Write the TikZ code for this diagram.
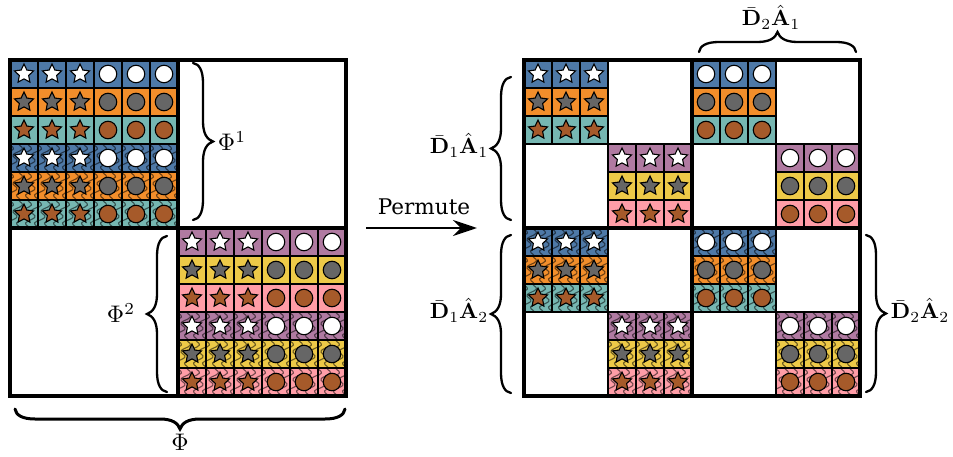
\documentclass[tikz,border=0pt]{standalone}
\usepackage{amsmath}
\usepackage[no-math]{fontspec}
\setmainfont{DejaVu Serif}
\usepackage{tikz}
\usetikzlibrary{shapes.geometric,decorations,arrows.meta}

\definecolor{cblue}{HTML}{4E79A7}
\definecolor{corange}{HTML}{F28E2B}
\definecolor{cteal}{HTML}{76B7B2}
\definecolor{cpurple}{HTML}{B07AA1}
\definecolor{cyellow}{HTML}{EDC948}
\definecolor{cpink}{HTML}{FF9DA7}
\definecolor{cgray}{HTML}{666666}
\definecolor{cbrown}{HTML}{A65A2A}

% long curled brace, tip to the left of the path
\pgfdeclaredecoration{curly}{final}{
	\state{final}{
		\pgfmathsetlengthmacro{\hlen}{0.5*\pgfdecoratedpathlength}
		\pgfpathmoveto{\pgfpointorigin}
		\pgfpathcurveto{\pgfqpoint{1pt}{6pt}}{\pgfqpoint{7pt}{10pt}}{\pgfqpoint{20pt}{10pt}}
		\pgfpathlineto{\pgfpoint{\hlen-20pt}{10pt}}
		\pgfpathcurveto{\pgfpoint{\hlen-8pt}{10pt}}{\pgfpoint{\hlen-2pt}{14pt}}{\pgfpoint{\hlen}{20pt}}
		\pgfpathcurveto{\pgfpoint{\hlen+2pt}{14pt}}{\pgfpoint{\hlen+8pt}{10pt}}{\pgfpoint{\hlen+20pt}{10pt}}
		\pgfpathlineto{\pgfpoint{2*\hlen-20pt}{10pt}}
		\pgfpathcurveto{\pgfpoint{2*\hlen-7pt}{10pt}}{\pgfpoint{2*\hlen-1pt}{6pt}}{\pgfpoint{2*\hlen}{0pt}}
	}
}

\tikzset{
	cellbox/.style={draw=black, line width=1.5pt, minimum size=28pt, inner sep=0pt, outer sep=0pt},
	plaincell/.style={cellbox},
	wavecell/.style={cellbox, path picture={
		\begin{scope}[shift={(path picture bounding box.center)}]
		\foreach \k in {-27,-18,-9,0,9,18,27}
			\draw[line width=1.1pt, draw=\rowcol!45!black]
				plot[smooth, domain=-16:16, samples=19] ({\k-0.45*\x+3.4*sin(\x*30)},\x);
		\end{scope}
	}},
	starmark/.style={star, star points=5, star point ratio=2.05, draw=black, line width=1.1pt, minimum size=20pt, inner sep=0pt},
	circmark/.style={circle, draw=black, line width=1.1pt, minimum size=17.5pt, inner sep=0pt},
	frame/.style={draw=black, line width=3.5pt, minimum size=336pt, inner sep=0pt, outer sep=0pt},
	bracket/.style={draw=black, line width=2.3pt, line cap=round, decorate, decoration={curly}},
	lab/.style={scale=2.2, inner sep=0pt},
	philab/.style={scale=2.4, inner sep=0pt},
}

\newcommand{\palA}{0/cblue/white, 1/corange/cgray, 2/cteal/cbrown}
\newcommand{\palB}{0/cpurple/white, 1/cyellow/cgray, 2/cpink/cbrown}

% name, left, top, palette, mark style, cell style
\newcommand{\block}[6]{
	\foreach \r/\rowcol/\markcol in #4
		\foreach \c in {0,1,2} {
			\node[#6, fill=\rowcol] (#1-\r-\c) at ({#2+14+28*\c},{#3+14+28*\r}) {};
			\node[#5, fill=\markcol] (#1m-\r-\c) at (#1-\r-\c) {};
		}
}

\begin{document}
\begin{tikzpicture}[x=1pt,y=-1pt]
	\useasboundingbox (0,0) rectangle (953,457);

	% left matrix
	\block{la}{10}{60}{\palA}{starmark}{plaincell}
	\block{lb}{94}{60}{\palA}{circmark}{plaincell}
	\block{lc}{10}{144}{\palA}{starmark}{wavecell}
	\block{ld}{94}{144}{\palA}{circmark}{wavecell}
	\block{le}{178}{228}{\palB}{starmark}{plaincell}
	\block{lf}{262}{228}{\palB}{circmark}{plaincell}
	\block{lg}{178}{312}{\palB}{starmark}{wavecell}
	\block{lh}{262}{312}{\palB}{circmark}{wavecell}

	% right matrix
	\block{ra}{524}{60}{\palA}{starmark}{plaincell}
	\block{rb}{608}{144}{\palB}{starmark}{plaincell}
	\block{rc}{692}{60}{\palA}{circmark}{plaincell}
	\block{rd}{776}{144}{\palB}{circmark}{plaincell}
	\block{re}{524}{228}{\palA}{starmark}{wavecell}
	\block{rf}{608}{312}{\palB}{starmark}{wavecell}
	\block{rg}{692}{228}{\palA}{circmark}{wavecell}
	\block{rh}{776}{312}{\palB}{circmark}{wavecell}

	\node[frame] (mleft) at (178,228) {};
	\node[frame] (mright) at (692,228) {};
	\draw[line width=3.5pt] (mleft.north) -- (mleft.south);
	\draw[line width=3.5pt] (mleft.west) -- (mleft.east);
	\draw[line width=3.5pt] (mright.north) -- (mright.south);
	\draw[line width=3.5pt] (mright.west) -- (mright.east);

	\draw[line width=2.8pt, -{Stealth[length=24pt,width=16pt,inset=8pt]}] ([xshift=20pt]mleft.east) -- ([xshift=-47pt]mright.west);
	\node[lab, scale=0.98] (permute) at (424,207) {Permute};

	% braces
	\coordinate (b1a) at (193,63);
	\coordinate (b1b) at (193,220);
	\coordinate (b2a) at (167,392);
	\coordinate (b2b) at (167,236);
	\coordinate (b3a) at (345,409);
	\coordinate (b3b) at (15,409);
	\coordinate (b4a) at (511,220);
	\coordinate (b4b) at (511,77);
	\coordinate (b5a) at (511,393);
	\coordinate (b5b) at (511,235);
	\coordinate (b6a) at (699,52);
	\coordinate (b6b) at (856,52);
	\coordinate (b7a) at (866,235);
	\coordinate (b7b) at (866,392);

	\draw[bracket] (b1a) -- (b1b);
	\draw[bracket] (b2a) -- (b2b);
	\draw[bracket, line width=3pt] (b3a) -- (b3b);
	\draw[bracket] (b4a) -- (b4b);
	\draw[bracket] (b5a) -- (b5b);
	\draw[bracket] (b6a) -- (b6b);
	\draw[bracket] (b7a) -- (b7b);

	\node[philab] (phi1) at (232,141) {$\Phi^1$};
	\node[philab] (phi2) at (121,313) {$\Phi^2$};
	\node[philab] (phi) at (180,442) {$\Phi$};
	\node[lab] (d1a1) at (459,145) {$\bar{\mathbf{D}}_1\hat{\mathbf{A}}_1$};
	\node[lab] (d1a2) at (459,310) {$\bar{\mathbf{D}}_1\hat{\mathbf{A}}_2$};
	\node[lab] (d2a1) at (771,17) {$\bar{\mathbf{D}}_2\hat{\mathbf{A}}_1$};
	\node[lab] (d2a2) at (920,310) {$\bar{\mathbf{D}}_2\hat{\mathbf{A}}_2$};
\end{tikzpicture}
\end{document}
